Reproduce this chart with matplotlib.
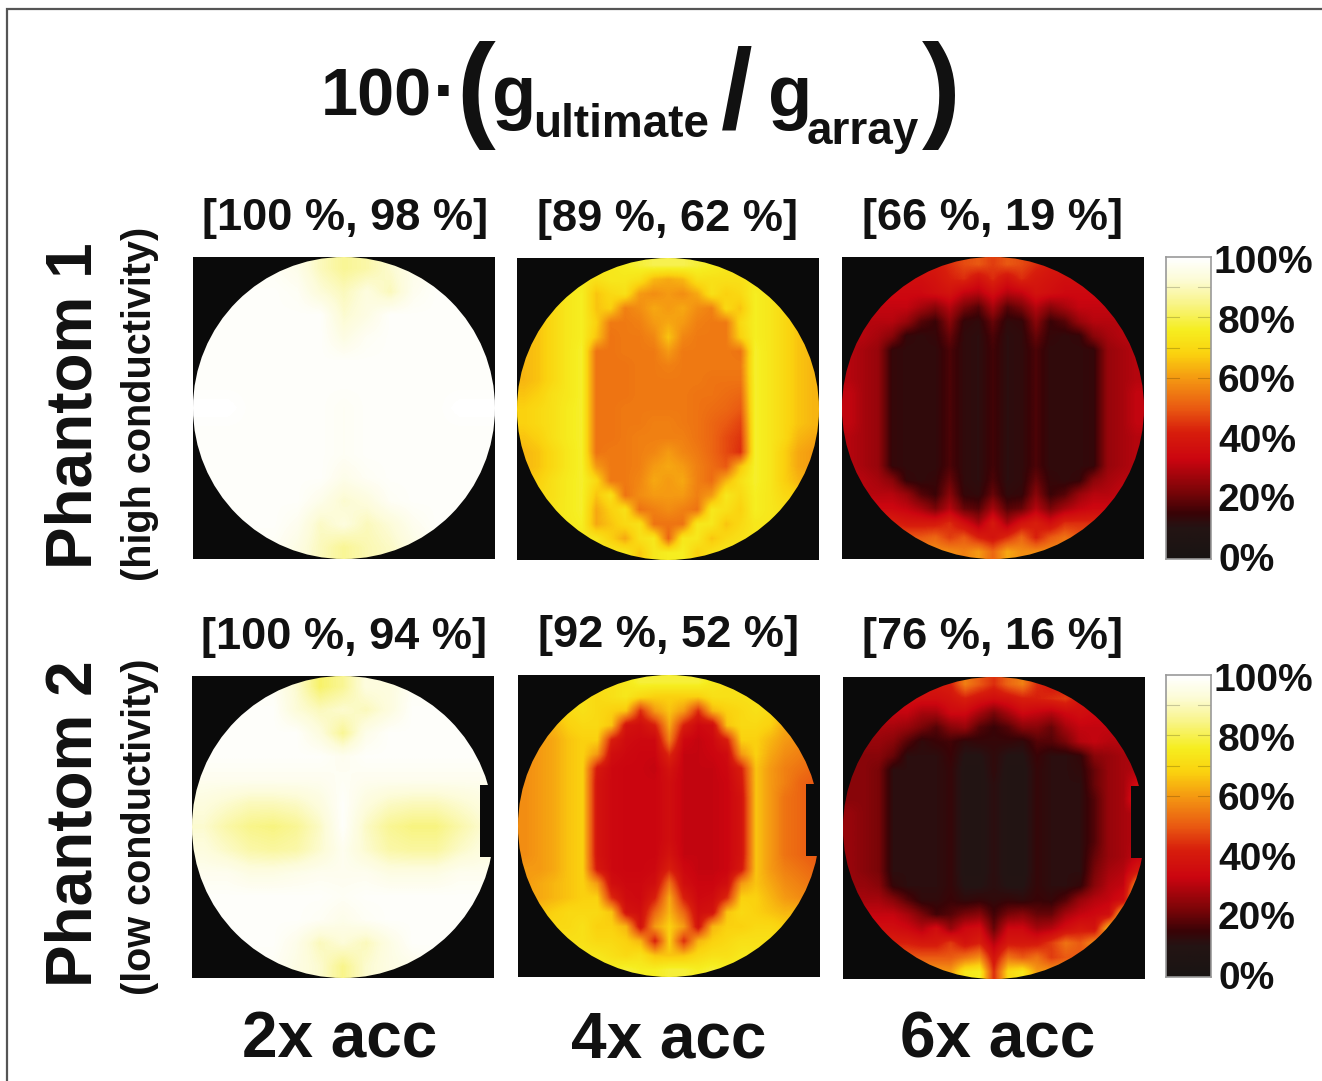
import numpy as np
import matplotlib
matplotlib.use("Agg")
import matplotlib.pyplot as plt
from matplotlib.colors import LinearSegmentedColormap
from matplotlib.patches import Circle, Rectangle

W, H = 1322, 1081
plt.rcParams['font.family'] = ['Liberation Sans', 'DejaVu Sans']

# percent values, top row first
p1_2x = [
    [98, 98, 98, 98, 96, 90, 86, 88, 92, 96, 98, 98, 98],
    [99, 99, 99, 99, 98, 93, 90, 94, 90, 97, 99, 99, 99],
    [99, 99, 99, 99, 99, 99, 92, 95, 99, 99, 99, 99, 99],
    [99, 99, 99, 99, 99, 99, 95, 98, 99, 99, 99, 99, 99],
    [99, 99, 99, 99, 99, 99, 99, 99, 99, 99, 99, 99, 99],
    [99, 99, 99, 99, 99, 99, 99, 99, 99, 99, 99, 99, 99],
    [100, 100, 99, 99, 99, 99, 98, 99, 99, 99, 99, 100, 100],
    [99, 99, 99, 99, 99, 99, 98, 99, 99, 99, 99, 99, 99],
    [99, 99, 99, 99, 99, 99, 98, 99, 99, 99, 99, 99, 99],
    [99, 99, 99, 99, 99, 99, 96, 98, 99, 99, 99, 99, 99],
    [99, 99, 99, 99, 99, 96, 92, 94, 98, 99, 99, 99, 99],
    [99, 99, 99, 99, 97, 91, 94, 90, 93, 97, 99, 99, 99],
    [98, 98, 98, 98, 95, 90, 86, 89, 91, 95, 98, 98, 98],
]
p2_2x = [
    [98, 98, 98, 98, 92, 82, 86, 94, 94, 98, 98, 98, 98],
    [99, 99, 99, 99, 93, 90, 92, 90, 94, 99, 99, 99, 99],
    [99, 99, 99, 99, 99, 94, 86, 96, 99, 99, 99, 99, 99],
    [99, 99, 99, 99, 99, 99, 97, 99, 99, 99, 99, 99, 99],
    [97, 97, 97, 97, 97, 97, 98, 97, 97, 97, 97, 97, 97],
    [94, 92, 90, 90, 91, 94, 99, 94, 91, 90, 90, 92, 94],
    [92, 88, 85, 84, 86, 91, 99, 91, 86, 84, 84, 88, 92],
    [94, 91, 88, 87, 88, 92, 97, 92, 88, 87, 87, 91, 94],
    [97, 97, 95, 95, 96, 97, 97, 97, 95, 95, 95, 97, 97],
    [99, 99, 99, 99, 99, 99, 98, 99, 99, 99, 99, 99, 99],
    [99, 99, 99, 99, 99, 98, 96, 98, 99, 99, 99, 99, 99],
    [99, 99, 99, 99, 96, 90, 93, 90, 95, 99, 99, 99, 99],
    [98, 98, 98, 98, 95, 92, 85, 92, 95, 96, 98, 98, 98],
]
p1_4x = [
    [74, 74, 74, 74, 74, 74, 74, 76, 78, 80, 80, 80, 78, 76, 74, 74, 74, 74, 74, 74, 74],
    [74, 74, 74, 74, 74, 72, 74, 74, 72, 64, 62, 64, 72, 72, 72, 72, 74, 74, 74, 74, 74],
    [72, 72, 72, 74, 76, 66, 70, 72, 60, 58, 60, 58, 62, 72, 68, 70, 76, 74, 72, 72, 72],
    [68, 68, 70, 74, 76, 66, 68, 56, 58, 62, 60, 62, 58, 56, 70, 66, 76, 74, 70, 68, 68],
    [66, 66, 70, 74, 76, 68, 55, 55, 56, 60, 62, 60, 56, 55, 55, 70, 76, 74, 70, 66, 66],
    [64, 66, 70, 74, 76, 66, 54, 55, 55, 57, 66, 57, 55, 55, 55, 68, 76, 74, 70, 66, 64],
    [64, 66, 70, 74, 77, 54, 54, 55, 55, 55, 60, 55, 55, 55, 55, 54, 77, 74, 70, 66, 64],
    [64, 66, 70, 74, 77, 54, 54, 54, 55, 55, 56, 55, 55, 55, 55, 55, 77, 74, 70, 66, 64],
    [64, 66, 70, 74, 77, 54, 54, 54, 55, 55, 55, 55, 55, 54, 54, 54, 77, 74, 70, 66, 64],
    [66, 68, 72, 74, 77, 54, 54, 54, 55, 55, 55, 55, 54, 54, 53, 52, 77, 74, 70, 66, 64],
    [68, 70, 72, 75, 77, 54, 54, 55, 55, 55, 55, 55, 54, 53, 52, 50, 77, 74, 70, 66, 64],
    [68, 70, 72, 75, 77, 54, 54, 55, 55, 56, 56, 55, 54, 52, 50, 47, 77, 74, 70, 66, 64],
    [66, 68, 72, 75, 77, 54, 54, 55, 56, 56, 56, 56, 54, 52, 48, 45, 77, 74, 70, 64, 62],
    [64, 66, 70, 74, 77, 54, 55, 55, 56, 57, 60, 57, 55, 52, 48, 44, 77, 74, 68, 62, 60],
    [64, 66, 70, 74, 77, 60, 55, 55, 56, 60, 62, 60, 56, 53, 50, 66, 77, 74, 68, 62, 60],
    [66, 68, 72, 75, 77, 70, 55, 55, 57, 62, 60, 62, 56, 53, 64, 72, 77, 74, 68, 64, 62],
    [70, 70, 72, 75, 77, 66, 72, 54, 58, 60, 60, 60, 56, 60, 74, 70, 76, 74, 70, 68, 68],
    [72, 72, 73, 75, 77, 62, 68, 72, 54, 56, 58, 56, 54, 74, 72, 68, 76, 74, 72, 72, 72],
    [74, 74, 74, 75, 76, 62, 66, 70, 72, 54, 54, 54, 74, 74, 66, 70, 74, 74, 74, 74, 74],
    [74, 74, 74, 74, 74, 74, 68, 62, 72, 74, 52, 74, 74, 66, 70, 72, 74, 74, 74, 74, 74],
    [74, 74, 74, 74, 74, 74, 74, 74, 66, 74, 76, 76, 68, 72, 74, 74, 74, 74, 74, 74, 74],
]
p2_4x = [
    [72, 72, 72, 72, 72, 72, 72, 74, 78, 78, 78, 78, 78, 74, 72, 72, 72, 72, 72, 72, 72],
    [72, 72, 72, 72, 72, 70, 72, 74, 70, 68, 68, 68, 68, 72, 72, 72, 72, 72, 72, 72, 72],
    [66, 66, 68, 70, 72, 70, 68, 66, 44, 60, 66, 60, 44, 64, 68, 70, 72, 70, 66, 64, 64],
    [60, 62, 64, 68, 70, 70, 66, 38, 36, 42, 62, 42, 34, 36, 66, 70, 70, 68, 62, 60, 60],
    [58, 60, 62, 66, 68, 68, 42, 35, 34, 34, 56, 34, 32, 34, 42, 68, 68, 64, 60, 58, 56],
    [58, 60, 62, 66, 68, 60, 36, 34, 33, 33, 44, 32, 32, 33, 35, 60, 68, 62, 58, 56, 54],
    [58, 60, 62, 66, 68, 40, 34, 33, 33, 32, 38, 32, 32, 32, 34, 42, 66, 60, 56, 54, 52],
    [58, 60, 62, 66, 68, 38, 34, 33, 33, 33, 36, 32, 32, 32, 33, 40, 66, 60, 56, 52, 50],
    [58, 60, 62, 66, 68, 38, 34, 33, 33, 33, 36, 32, 32, 32, 33, 38, 66, 60, 54, 52, 50],
    [58, 60, 62, 66, 68, 38, 34, 33, 33, 33, 36, 32, 32, 32, 33, 38, 66, 60, 54, 52, 50],
    [58, 60, 62, 66, 68, 38, 34, 33, 33, 33, 36, 32, 32, 32, 33, 38, 66, 60, 54, 52, 50],
    [58, 60, 62, 66, 68, 38, 34, 33, 33, 33, 36, 32, 32, 32, 33, 38, 66, 60, 54, 52, 50],
    [58, 60, 62, 66, 68, 38, 34, 33, 33, 33, 38, 32, 32, 32, 33, 38, 66, 60, 54, 52, 50],
    [60, 60, 62, 66, 68, 40, 34, 33, 33, 34, 42, 34, 32, 32, 33, 40, 66, 60, 56, 54, 52],
    [60, 62, 64, 66, 68, 60, 36, 34, 34, 36, 54, 36, 33, 33, 36, 60, 66, 62, 58, 56, 54],
    [62, 62, 64, 66, 68, 68, 44, 35, 34, 42, 62, 42, 34, 35, 44, 68, 68, 64, 60, 58, 58],
    [64, 66, 68, 70, 70, 70, 66, 38, 36, 52, 64, 52, 36, 38, 66, 70, 68, 66, 64, 64, 64],
    [68, 68, 70, 70, 72, 68, 68, 64, 38, 60, 68, 60, 38, 64, 68, 68, 70, 70, 68, 68, 68],
    [72, 72, 72, 72, 72, 70, 70, 68, 64, 42, 68, 44, 64, 68, 70, 72, 72, 72, 72, 72, 72],
    [74, 74, 74, 74, 74, 74, 72, 70, 72, 66, 66, 66, 70, 72, 72, 74, 74, 74, 74, 74, 74],
    [76, 76, 76, 76, 76, 76, 76, 78, 76, 76, 78, 78, 76, 78, 76, 76, 76, 76, 76, 76, 76],
]
p1_6x = [
    [40, 40, 40, 40, 40, 40, 40, 44, 48, 50, 46, 50, 48, 44, 40, 40, 40, 40, 40, 40, 40],
    [36, 36, 36, 36, 36, 36, 38, 42, 44, 38, 44, 38, 44, 40, 38, 36, 36, 36, 36, 36, 36],
    [34, 34, 34, 34, 34, 34, 36, 38, 32, 30, 36, 30, 32, 38, 36, 34, 34, 34, 34, 34, 34],
    [32, 32, 32, 32, 32, 28, 24, 30, 22, 18, 28, 18, 22, 30, 24, 28, 32, 32, 32, 32, 32],
    [30, 30, 30, 30, 26, 18, 15, 24, 14, 13, 20, 13, 14, 24, 15, 18, 26, 30, 30, 30, 30],
    [30, 30, 28, 24, 14, 13, 14, 20, 13, 12, 17, 12, 13, 20, 14, 13, 14, 24, 28, 30, 30],
    [30, 28, 26, 14, 13, 13, 13, 17, 13, 12, 16, 12, 13, 17, 13, 13, 13, 14, 26, 28, 30],
    [30, 28, 26, 14, 13, 13, 13, 17, 13, 12, 16, 12, 13, 17, 13, 13, 13, 14, 26, 28, 30],
    [30, 28, 26, 14, 13, 13, 13, 17, 13, 12, 16, 12, 13, 17, 13, 13, 13, 14, 26, 28, 30],
    [32, 28, 26, 14, 13, 13, 13, 17, 13, 12, 16, 12, 13, 17, 13, 13, 13, 14, 26, 28, 32],
    [32, 28, 26, 14, 13, 13, 13, 17, 13, 12, 16, 12, 13, 17, 13, 13, 13, 14, 26, 28, 32],
    [32, 28, 26, 14, 13, 13, 13, 17, 13, 12, 16, 12, 13, 17, 13, 13, 13, 14, 26, 28, 32],
    [30, 28, 26, 14, 13, 13, 13, 17, 13, 12, 16, 12, 13, 17, 13, 13, 13, 14, 26, 28, 30],
    [30, 28, 26, 14, 13, 13, 13, 17, 13, 12, 16, 12, 13, 17, 13, 13, 13, 14, 26, 28, 30],
    [30, 28, 26, 14, 13, 13, 13, 17, 13, 12, 16, 12, 13, 17, 13, 13, 13, 14, 26, 28, 30],
    [30, 30, 28, 24, 14, 13, 14, 20, 13, 12, 17, 12, 13, 20, 14, 13, 14, 24, 28, 30, 30],
    [32, 30, 30, 30, 26, 18, 15, 24, 14, 13, 20, 13, 14, 24, 15, 18, 26, 30, 30, 32, 32],
    [36, 36, 34, 34, 32, 28, 22, 30, 20, 18, 28, 18, 20, 30, 22, 28, 32, 34, 34, 36, 36],
    [42, 42, 42, 42, 40, 40, 40, 44, 36, 28, 40, 28, 38, 42, 36, 44, 44, 44, 44, 44, 44],
    [50, 50, 50, 50, 50, 50, 52, 46, 50, 42, 38, 44, 52, 42, 50, 54, 50, 50, 50, 50, 50],
    [58, 58, 58, 58, 58, 58, 58, 58, 56, 60, 52, 62, 58, 58, 58, 58, 58, 58, 58, 58, 58],
]
p2_6x = [
    [40, 40, 40, 40, 40, 40, 40, 42, 56, 50, 44, 52, 56, 44, 40, 40, 40, 40, 40, 40, 40],
    [36, 36, 36, 36, 36, 36, 36, 38, 42, 38, 36, 38, 42, 42, 44, 46, 38, 38, 38, 38, 38],
    [32, 32, 32, 32, 32, 28, 28, 34, 34, 28, 22, 28, 34, 32, 30, 34, 36, 34, 34, 34, 34],
    [28, 28, 28, 28, 26, 22, 18, 24, 26, 18, 15, 18, 24, 24, 20, 28, 32, 32, 32, 32, 32],
    [26, 26, 26, 24, 18, 13, 15, 16, 13, 14, 14, 14, 13, 18, 18, 22, 30, 32, 30, 30, 30],
    [24, 24, 24, 20, 12, 12, 12, 15, 10, 10, 13, 10, 10, 15, 12, 12, 14, 24, 26, 28, 28],
    [24, 24, 22, 12, 12, 12, 12, 14, 9, 9, 13, 9, 9, 14, 12, 12, 13, 20, 26, 28, 30],
    [24, 24, 22, 12, 12, 12, 12, 14, 9, 9, 12, 9, 9, 14, 12, 12, 12, 20, 26, 28, 36],
    [24, 24, 22, 12, 12, 12, 12, 14, 9, 9, 12, 9, 9, 14, 12, 12, 12, 18, 26, 28, 40],
    [26, 24, 22, 12, 12, 12, 12, 14, 9, 9, 12, 9, 9, 14, 12, 12, 12, 18, 26, 28, 30],
    [26, 24, 22, 12, 12, 12, 12, 14, 9, 9, 12, 9, 9, 14, 12, 12, 12, 18, 26, 28, 30],
    [26, 24, 22, 12, 12, 12, 12, 14, 9, 9, 12, 9, 9, 14, 12, 12, 12, 18, 26, 28, 30],
    [26, 24, 22, 12, 12, 12, 12, 14, 9, 9, 12, 9, 9, 14, 12, 12, 12, 20, 26, 28, 32],
    [26, 24, 22, 12, 12, 12, 12, 14, 9, 9, 12, 9, 9, 14, 12, 12, 12, 22, 28, 30, 40],
    [26, 26, 24, 14, 12, 12, 12, 14, 10, 10, 12, 10, 10, 14, 12, 12, 14, 24, 30, 32, 60],
    [28, 28, 28, 24, 18, 13, 13, 15, 13, 14, 13, 14, 13, 15, 14, 18, 26, 30, 32, 36, 70],
    [32, 32, 32, 32, 28, 22, 16, 18, 22, 24, 16, 22, 24, 20, 20, 28, 32, 34, 36, 66, 70],
    [36, 36, 36, 36, 34, 30, 36, 26, 34, 36, 20, 34, 34, 28, 30, 36, 40, 38, 66, 60, 60],
    [42, 42, 42, 42, 42, 40, 40, 46, 38, 42, 30, 40, 40, 40, 46, 54, 50, 58, 50, 50, 50],
    [50, 50, 50, 50, 50, 50, 50, 50, 54, 58, 38, 54, 50, 54, 46, 50, 50, 50, 50, 50, 50],
    [60, 60, 60, 60, 60, 60, 60, 60, 74, 76, 44, 70, 74, 60, 60, 60, 60, 60, 60, 60, 60],
]

rows = ["Phantom 1", "Phantom 2"]
subrows = ["(high conductivity)", "(low conductivity)"]
cols = ["2x acc", "4x acc", "6x acc"]
ranges = [["[100 %, 98 %]", "[89 %, 62 %]", "[66 %, 19 %]"],
          ["[100 %, 94 %]", "[92 %, 52 %]", "[76 %, 16 %]"]]
panels = [[p1_2x, p1_4x, p1_6x], [p2_2x, p2_4x, p2_6x]]
cbar_labels = ["100%", "80%", "60%", "40%", "20%", "0%"]
cbar_ticks = [100, 80, 60, 40, 20, 0]

cmap = LinearSegmentedColormap.from_list("acc", [
    (0.00, "#191413"), (0.10, "#241414"), (0.15, "#3a0306"), (0.22, "#7a0508"),
    (0.33, "#cc0610"), (0.42, "#d81e0c"), (0.50, "#ea5a12"), (0.60, "#f59a12"),
    (0.68, "#fbd20f"), (0.76, "#f6ee20"), (0.85, "#f9f58a"), (0.93, "#fdfcd8"),
    (1.00, "#ffffff")])

panel_x = [[193, 517, 842], [192, 518, 843]]
panel_y = [[257, 258, 257], [676, 675, 677]]
panel_size = 302
cbar_y = [257, 675]


def add_ax(fig, x, y, w, h):
    return fig.add_axes([x / W, 1 - (y + h) / H, w / W, h / H])


def put(fig, x, y, s, size, **kw):
    kw.setdefault('ha', 'center')
    kw.setdefault('va', 'center')
    fig.text(x / W, 1 - y / H, s, fontsize=size, fontweight='bold', color='#111111', **kw)


fig = plt.figure(figsize=(W / 100, H / 100), dpi=100, facecolor='white')

# outer frame of the figure
frame = Rectangle((7 / W, -0.05), 1.2, 1 - 9 / H + 0.05, transform=fig.transFigure,
                  fill=False, ec='#555555', lw=1.6)
fig.add_artist(frame)

for r in range(2):
    for c in range(3):
        ax = add_ax(fig, panel_x[r][c], panel_y[r][c], panel_size, panel_size)
        ax.set_facecolor('#0a0a0a')
        im = ax.imshow(panels[r][c], cmap=cmap, vmin=0, vmax=100, extent=[0, 1, 0, 1],
                       interpolation='bilinear', aspect='auto')
        clip = Circle((0.5, 0.5), 0.5, transform=ax.transData)
        im.set_clip_path(clip)
        if r == 1:
            # flattened right side of phantom 2
            ax.add_patch(Rectangle((0.955, 0.40), 0.06, 0.24, fc='#0a0a0a', ec='none', zorder=3))
        ax.set_xlim(0, 1)
        ax.set_ylim(0, 1)
        ax.set_xticks([])
        ax.set_yticks([])
        for s in ax.spines.values():
            s.set_visible(False)
        put(fig, panel_x[r][c] + 150 + (2 if c == 0 else 0), panel_y[r][c] - 39, ranges[r][c], 32.5)

    put(fig, 75, 406 + r * 418, rows[r], 46, rotation=90)
    put(fig, 140, 404 + r * 423, subrows[r], 28.5, rotation=90)

    cax = add_ax(fig, 1166, cbar_y[r], 45, panel_size)
    cax.imshow(np.linspace(100, 0, 200).reshape(-1, 1), cmap=cmap, vmin=0, vmax=100,
               extent=[0, 1, 0, 100], aspect='auto')
    cax.set_xticks([])
    cax.set_yticks([])
    for v in [90, 80, 70, 60]:
        cax.plot([0, 0.28], [v, v], color='k', alpha=0.2, lw=0.8)
        cax.plot([0.72, 1], [v, v], color='k', alpha=0.2, lw=0.8)
    cax.set_xlim(0, 1)
    cax.set_ylim(0, 100)
    for s in cax.spines.values():
        s.set_color('#999999')
        s.set_linewidth(1.2)
    for lab, t in zip(cbar_labels, cbar_ticks):
        y = cbar_y[r] + 6 + (100 - t) / 100 * 298
        put(fig, 1263 if t == 100 else 1218, y, lab, 28, ha='center' if t == 100 else 'left')

for c, s in enumerate(cols):
    put(fig, [340, 669, 998][c], 1040, s, 46)

# title
put(fig, 376, 98, "100", 48)
put(fig, 445, 96, "\u00b7", 54)
put(fig, 476, 96, "(", 84)
put(fig, 514, 97, "g", 52)
put(fig, 533, 125, "ultimate", 33, ha='left')
put(fig, 737, 99, "/", 82)
put(fig, 790, 97, "g", 52)
put(fig, 807, 132, "array", 33, ha='left')
put(fig, 941, 96, ")", 84)

fig.savefig("out.png", dpi=100)
plt.close()
